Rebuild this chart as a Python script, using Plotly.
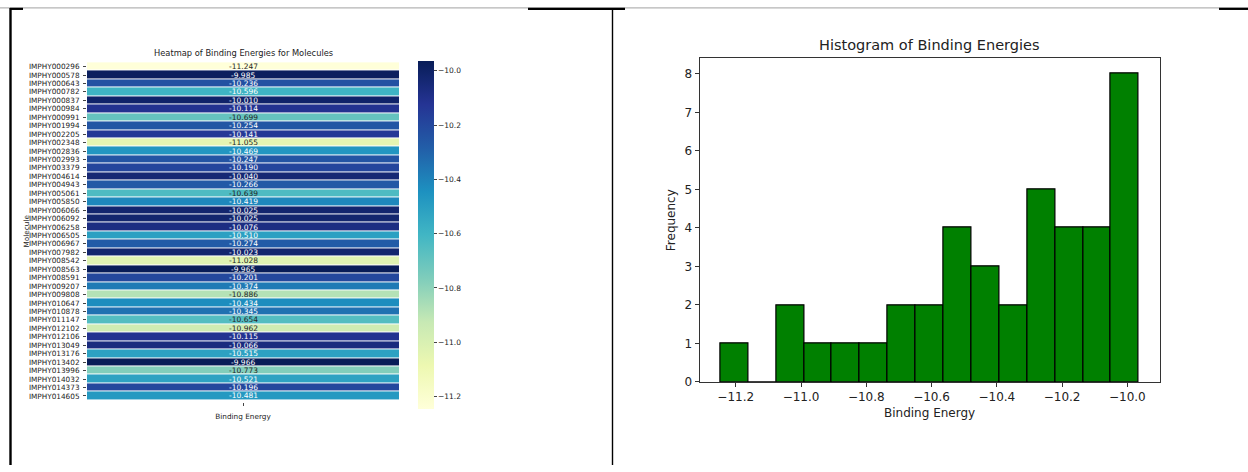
import numpy as np
import plotly.graph_objects as go

# ---- data -------------------------------------------------------------
molecules = [
    "IMPHY000296", "IMPHY000578", "IMPHY000643", "IMPHY000782", "IMPHY000837",
    "IMPHY000984", "IMPHY000991", "IMPHY001994", "IMPHY002205", "IMPHY002348",
    "IMPHY002836", "IMPHY002993", "IMPHY003379", "IMPHY004614", "IMPHY004943",
    "IMPHY005061", "IMPHY005850", "IMPHY006066", "IMPHY006092", "IMPHY006258",
    "IMPHY006505", "IMPHY006967", "IMPHY007982", "IMPHY008542", "IMPHY008563",
    "IMPHY008591", "IMPHY009207", "IMPHY009808", "IMPHY010647", "IMPHY010878",
    "IMPHY011147", "IMPHY012102", "IMPHY012106", "IMPHY013049", "IMPHY013176",
    "IMPHY013402", "IMPHY013996", "IMPHY014032", "IMPHY014373", "IMPHY014605",
]
binding_energy = [
    -11.247, -9.985, -10.236, -10.596, -10.010,
    -10.114, -10.699, -10.254, -10.141, -11.055,
    -10.469, -10.247, -10.190, -10.040, -10.266,
    -10.639, -10.419, -10.025, -10.025, -10.076,
    -10.510, -10.274, -10.023, -11.028, -9.965,
    -10.201, -10.374, -10.886, -10.434, -10.345,
    -10.654, -10.962, -10.115, -10.066, -10.515,
    -9.966, -10.773, -10.521, -10.196, -10.481,
]
column_label = ["Binding Energy"]
colorbar_ticks = [-11.2, -11.0, -10.8, -10.6, -10.4, -10.2, -10.0]
n_bins = 15

# ---- helpers ----------------------------------------------------------
W, H = 1248, 472
FONT = "DejaVu Sans"


def px(x):
    return x / W


def py(y):
    return 1 - y / H


ylgnbu = ["#ffffd9", "#edf8b1", "#c7e9b4", "#7fcdbb", "#41b6c4",
          "#1d91c0", "#225ea8", "#253494", "#081d58"]
colorscale = [[i / (len(ylgnbu) - 1), c] for i, c in enumerate(ylgnbu)]


def hex_rgb(h):
    h = h.lstrip("#")
    return [int(h[i:i + 2], 16) / 255 for i in (0, 2, 4)]


def scale_color(t):
    t = min(max(t, 0.0), 1.0)
    pos = t * (len(ylgnbu) - 1)
    i = min(int(pos), len(ylgnbu) - 2)
    f = pos - i
    a, b = hex_rgb(ylgnbu[i]), hex_rgb(ylgnbu[i + 1])
    return [a[k] + (b[k] - a[k]) * f for k in range(3)]


def luminance(rgb):
    lin = [c / 12.92 if c <= 0.03928 else ((c + 0.055) / 1.055) ** 2.4 for c in rgb]
    return 0.2126 * lin[0] + 0.7152 * lin[1] + 0.0722 * lin[2]


vmin, vmax = min(binding_energy), max(binding_energy)

fig = go.Figure()

# ---- heatmap ----------------------------------------------------------
CB_PAD = 10
fig.add_trace(go.Heatmap(
    z=[[v] for v in binding_energy],
    x=column_label,
    y=molecules,
    zmin=vmin, zmax=vmax,
    colorscale=colorscale,
    ygap=1,
    xaxis="x", yaxis="y",
    hovertemplate="%{y}: %{z:.3f}<extra></extra>",
    colorbar=dict(
        x=px(418 - CB_PAD), xanchor="left", xpad=CB_PAD,
        y=py(62 - CB_PAD), yanchor="top", ypad=CB_PAD,
        len=(346 + 2 * CB_PAD + 8) / H, lenmode="fraction",
        thickness=16, thicknessmode="pixels",
        outlinewidth=0,
        tickmode="array", tickvals=colorbar_ticks,
        tickformat=".1f",
        ticks="outside", ticklen=3, tickcolor="#444",
        tickfont=dict(family=FONT, size=7.5, color="#222"),
    ),
))

annotations = []
for name, v in zip(molecules, binding_energy):
    rgb = scale_color((v - vmin) / (vmax - vmin))
    txt_color = "#262626" if luminance(rgb) > 0.408 else "#ffffff"
    annotations.append(dict(
        x=column_label[0], y=name, xref="x", yref="y",
        text=f"{v:.3f}", showarrow=False,
        xanchor="center", yanchor="middle",
        font=dict(family=FONT, size=7.5, color=txt_color),
    ))

# ---- histogram --------------------------------------------------------
counts, edges = np.histogram(binding_energy, bins=n_bins)
centers = (edges[:-1] + edges[1:]) / 2
widths = np.diff(edges)
fig.add_trace(go.Bar(
    x=centers, y=counts, width=widths,
    marker=dict(color="#008000", line=dict(color="#000000", width=1.2)),
    xaxis="x2", yaxis="y2",
    hovertemplate="%{x:.3f}: %{y}<extra></extra>",
))

span = vmax - vmin
x_lo, x_hi = vmin - 0.05 * span, vmax + 0.05 * span
y_hi = counts.max() * 1.05


def label(text, x, y, size, angle=0):
    return dict(text=text, x=px(x), y=py(y), xref="paper", yref="paper",
                xanchor="center", yanchor="middle", textangle=angle,
                showarrow=False, font=dict(family=FONT, size=size, color="#222"))


# ---- text labels ------------------------------------------------------
annotations += [
    label("Heatmap of Binding Energies for Molecules", 243, 54, 8.3),
    label("Molecule", 27, 235, 7.3, -90),
    label("Histogram of Binding Energies", 929.6, 46, 14.5),
    label("Binding Energy", 929.6, 419, 12),
    label("Frequency", 671, 223.5, 12, -90),
]

# ---- page frame lines -------------------------------------------------
frame = [
    dict(type="line", x0=0, x1=1, y0=py(8), y1=py(8),
         line=dict(color="#b4b4b4", width=1.3)),
    dict(type="line", x0=px(10), x1=px(23), y0=py(9), y1=py(9),
         line=dict(color="#000", width=2.2)),
    dict(type="line", x0=px(528), x1=px(625), y0=py(9), y1=py(9),
         line=dict(color="#000", width=2.2)),
    dict(type="line", x0=px(1219), x1=1, y0=py(9), y1=py(9),
         line=dict(color="#000", width=2.2)),
    dict(type="line", x0=px(10.5), x1=px(10.5), y0=py(8), y1=0,
         line=dict(color="#000", width=2.4)),
    dict(type="line", x0=px(612.5), x1=px(612.5), y0=py(9), y1=0,
         line=dict(color="#000", width=1.4)),
]
for s in frame:
    s.update(xref="paper", yref="paper")

fig.update_layout(
    width=W, height=H,
    margin=dict(l=0, r=0, t=0, b=0),
    paper_bgcolor="white", plot_bgcolor="white",
    showlegend=False,
    font=dict(family=FONT, color="#222"),
    xaxis=dict(
        domain=[px(87), px(399)],
        anchor="y",
        showgrid=False, zeroline=False, showline=False,
        ticks="outside", ticklen=3, tickcolor="#444",
        ticklabelstandoff=4,
        tickfont=dict(family=FONT, size=7.3, color="#222"),
    ),
    yaxis=dict(
        domain=[py(408.5), py(61)],
        anchor="x",
        autorange="reversed",
        tickmode="array", tickvals=molecules, ticktext=molecules,
        showgrid=False, zeroline=False, showline=False,
        ticks="outside", ticklen=3, tickcolor="#444",
        ticklabelstandoff=2,
        tickfont=dict(family=FONT, size=7.3, color="#222"),
    ),
    xaxis2=dict(
        domain=[px(699.5), px(1159.7)],
        anchor="y2",
        range=[x_lo, x_hi],
        dtick=0.2, tick0=-11.2, tickformat=".1f",
        showgrid=False, zeroline=False,
        showline=True, mirror=True, linecolor="#333", linewidth=1,
        ticks="outside", ticklen=4, tickcolor="#333",
        tickfont=dict(family=FONT, size=12, color="#222"),
    ),
    yaxis2=dict(
        domain=[py(387.7), py(59.3)],
        anchor="x2",
        range=[0, y_hi],
        dtick=1, tick0=0,
        showgrid=False, zeroline=False,
        showline=True, mirror=True, linecolor="#333", linewidth=1,
        ticks="outside", ticklen=4, tickcolor="#333",
        tickfont=dict(family=FONT, size=12, color="#222"),
    ),
    bargap=0,
    annotations=annotations,
    shapes=frame,
)

fig.write_html("out.html")
